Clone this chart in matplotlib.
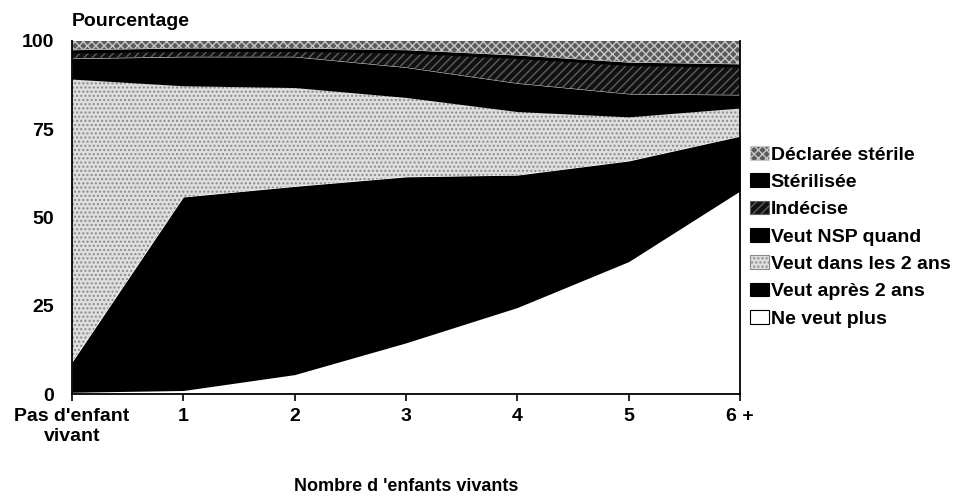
import matplotlib.pyplot as plt
import numpy as np
from matplotlib.patches import Patch

plt.rcParams["font.family"] = ["Liberation Sans", "DejaVu Sans"]
plt.rcParams["font.weight"] = "bold"
plt.rcParams["hatch.linewidth"] = 1.0

# Nombre d'enfants vivants
categories = ["Pas d'enfant\nvivant", "1", "2", "3", "4", "5", "6 +"]

# Pourcentages par couche, du bas vers le haut
ne_veut_plus = [0.5, 1.0, 5.5, 14.5, 24.5, 37.5, 57.5]
veut_apres_2_ans = [8.5, 54.8, 53.3, 47.0, 37.5, 28.5, 15.5]
veut_dans_2_ans = [80.2, 31.5, 28.0, 22.5, 18.0, 12.5, 8.0]
veut_nsp_quand = [5.8, 8.2, 8.7, 8.5, 8.0, 6.5, 3.7]
indecise = [1.5, 1.5, 1.5, 4.0, 7.0, 8.0, 7.8]
sterilisee = [1.0, 1.0, 1.0, 1.0, 1.0, 1.0, 1.0]
declaree_sterile = [2.5, 2.0, 2.0, 2.5, 4.0, 6.0, 6.5]

labels = ["Ne veut plus", "Veut après 2 ans", "Veut dans les 2 ans",
          "Veut NSP quand", "Indécise", "Stérilisée", "Déclarée stérile"]
series = [ne_veut_plus, veut_apres_2_ans, veut_dans_2_ans, veut_nsp_quand,
          indecise, sterilisee, declaree_sterile]

# (couleur de fond, motif, couleur du motif)
styles = [
    ("white", None, "black"),
    ("black", None, "black"),
    ("#dedede", "....", "#8a8a8a"),
    ("black", None, "black"),
    ("#111111", "////", "#5e5e5e"),
    ("black", None, "black"),
    ("#5a5a5a", "xxxx", "#c8c8c8"),
]

fig = plt.figure(figsize=(9.78, 4.98), dpi=100)
ax = fig.add_axes([0.0736, 0.2088, 0.683, 0.709])

x = np.arange(len(categories))
polys = ax.stackplot(x, *series)
for poly, (fc, hatch, hc) in zip(polys, styles):
    poly.set_facecolor(fc)
    poly.set_edgecolor(hc)
    poly.set_linewidth(0)
    if hatch:
        poly.set_hatch(hatch)

ax.set_xlim(0, len(categories) - 1)
ax.set_ylim(0, 100)
ax.set_xticks(x)
ax.set_xticklabels(categories, fontsize=14, fontweight="bold", linespacing=1.2)
ax.set_yticks([0, 25, 50, 75, 100])
ax.set_yticklabels(["0", "25", "50", "75", "100"], fontsize=14, fontweight="bold")
ax.tick_params(axis="x", direction="out", length=5, width=1.2, pad=5)
ax.tick_params(axis="y", length=0, pad=13)
for side in ["left", "bottom", "right"]:
    ax.spines[side].set_linewidth(1.3)
ax.spines["top"].set_visible(False)

ax.text(0.0, 1.03, "Pourcentage", transform=ax.transAxes, fontsize=14,
        fontweight="bold", ha="left", va="bottom")
ax.set_xlabel("Nombre d 'enfants vivants", fontsize=13, fontweight="bold",
              labelpad=24)

handles = []
for lab, (fc, hatch, hc) in zip(labels, styles):
    handles.append(Patch(facecolor=fc, edgecolor="black" if hatch is None else hc,
                         hatch=hatch, linewidth=0.8, label=lab))
ax.legend(handles[::-1], labels[::-1], loc="upper left", bbox_to_anchor=(1.004, 0.724),
          frameon=False, handlelength=0.95, handleheight=0.7,
          handletextpad=0.1, labelspacing=0.5, borderaxespad=0.0,
          prop={"weight": "bold", "size": 14})

plt.savefig("out.png", dpi=100)
plt.close(fig)
